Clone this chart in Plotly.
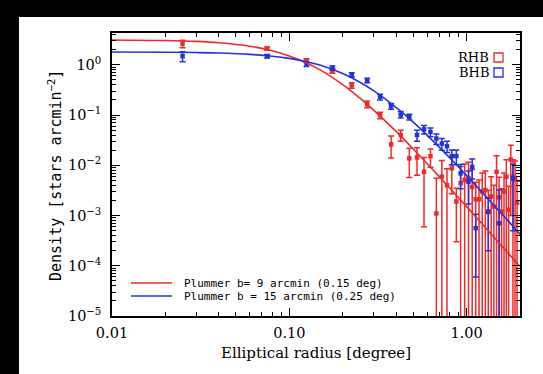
import plotly.graph_objects as go

# ---------------- data ----------------
red_r = [0.025, 0.075, 0.125, 0.175, 0.225, 0.275, 0.325, 0.375, 0.425, 0.475,
         0.525, 0.575, 0.625, 0.675, 0.725, 0.775, 0.825, 0.875, 0.925, 0.975,
         1.025, 1.075, 1.125, 1.175, 1.225, 1.275, 1.325, 1.375, 1.425, 1.475,
         1.525, 1.575, 1.625, 1.675, 1.725, 1.775, 1.825, 1.875, 1.925]
red_d = [2.63, 2.10, 1.21, 0.754, 0.39, 0.164, 0.099, 0.026, 0.040, 0.0137,
         0.0143, 0.0074, 0.0151, 0.0011, 0.0059, 0.0040, 0.0087, 0.0019, 0.0044, 0.0051,
         0.0055, 0.0037, 0.0021, 0.0021, 0.0030, 0.0032, 0.00117, 0.0024, 0.0015, 0.0074,
         0.0023, 0.0012, 0.0030, 0.0059, 0.0013, 0.0130, 0.0059, 0.0056, 0.0018]
red_e = [0.45, 0.15, 0.10, 0.08, 0.05, 0.025, 0.015, 0.012, 0.010, 0.008,
         0.008, 0.0068, 0.006, 0.0044, 0.0065, 0.0045, 0.0060, 0.0016, 0.0050, 0.0055,
         0.0060, 0.0045, 0.0025, 0.0030, 0.0040, 0.0045, 0.0020, 0.0035, 0.0025, 0.0080,
         0.0035, 0.0022, 0.0040, 0.0070, 0.0025, 0.0120, 0.0070, 0.0065, 0.0030]

blue_r = [0.025, 0.075, 0.125, 0.175, 0.225, 0.275, 0.325, 0.375, 0.425, 0.475,
          0.525, 0.575, 0.625, 0.675, 0.725, 0.775, 0.825, 0.875, 0.925, 1.025,
          1.075, 1.125, 1.325, 1.525, 1.825]
blue_d = [1.48, 1.48, 1.02, 0.865, 0.63, 0.49, 0.23, 0.15, 0.102, 0.092,
          0.040, 0.052, 0.046, 0.034, 0.027, 0.024, 0.0152, 0.0152, 0.0069, 0.0047,
          0.0093, 0.00056, 0.0012, 0.0007, 0.0055]
blue_e = [0.33, 0.12, 0.10, 0.08, 0.06, 0.05, 0.03, 0.02, 0.015, 0.012,
          0.010, 0.010, 0.009, 0.008, 0.007, 0.006, 0.005, 0.005, 0.0035, 0.003,
          0.004, 0.0005, 0.001, 0.0025, 0.005]

# Plummer fit curves
fit_r = [0.01, 0.02, 0.03, 0.04, 0.06, 0.08, 0.10, 0.12, 0.15, 0.20,
         0.25, 0.30, 0.40, 0.50, 0.60, 0.80, 1.0, 1.3, 1.6, 2.0]
fit_rhb = [3.12, 3.04, 2.92, 2.75, 2.34, 1.90, 1.50, 1.16, 0.78, 0.402,
           0.217, 0.124, 0.0471, 0.0211, 0.01073, 0.00358, 0.00150, 0.000535, 0.000235, 0.000097]
fit_bhb = [1.794, 1.777, 1.749, 1.711, 1.609, 1.481, 1.338, 1.189, 0.973, 0.669,
           0.45, 0.302, 0.142, 0.072, 0.0394, 0.01425, 0.00623, 0.00229, 0.00102, 0.000426]

x_tickvals = [0.01, 0.1, 1.0]
x_ticktext = ["0.01", "0.10", "1.00"]
y_tickvals = [1, 0.1, 0.01, 0.001, 0.0001, 0.00001]
y_ticktext = ["10<sup>0</sup>", "10<sup>−1</sup>", "10<sup>−2</sup>",
              "10<sup>−3</sup>", "10<sup>−4</sup>", "10<sup>−5</sup>"]

legend_labels = ["Plummer b= 9 arcmin (0.15 deg)", "Plummer b = 15 arcmin (0.25 deg)"]
sample_labels = ["RHB", "BHB"]

RED = "#ee2a2a"
BLUE = "#2233dd"

fig = go.Figure()

fig.add_trace(go.Scatter(
    x=red_r, y=red_d, mode="markers",
    marker=dict(symbol="square", size=4.5, color=RED),
    error_y=dict(type="data", array=red_e, color=RED, thickness=1.5, width=3),
    showlegend=False))
fig.add_trace(go.Scatter(
    x=blue_r, y=blue_d, mode="markers",
    marker=dict(symbol="square", size=4.5, color=BLUE),
    error_y=dict(type="data", array=blue_e, color=BLUE, thickness=1.5, width=3),
    showlegend=False))
fig.add_trace(go.Scatter(x=fit_r, y=fit_rhb, mode="lines", line=dict(color=RED, width=1.6, shape="spline"),
                         showlegend=False))
fig.add_trace(go.Scatter(x=fit_r, y=fit_bhb, mode="lines", line=dict(color=BLUE, width=1.6, shape="spline"),
                         showlegend=False))

tickfont = dict(family="DejaVu Serif", size=14.5, color="black")
axis_common = dict(type="log", showgrid=False, zeroline=False, showline=True,
                   linecolor="black", linewidth=1.6, mirror="allticks",
                   ticks="inside", ticklen=8, tickwidth=1.2, tickcolor="black",
                   tickfont=tickfont)

fig.update_xaxes(**axis_common, range=[-2, 0.301],
                 tickvals=x_tickvals, ticktext=x_ticktext, ticklabelstandoff=3,
                 minor=dict(ticks="inside", ticklen=4, tickwidth=1, tickcolor="black",
                            dtick="D1", showgrid=False))
fig.update_yaxes(**axis_common, range=[-5, 0.632],
                 tickvals=y_tickvals, ticktext=y_ticktext, ticklabelstandoff=6,
                 minor=dict(ticks="inside", ticklen=4, tickwidth=1, tickcolor="black",
                            dtick="D1", showgrid=False))

shapes = []
# white page area (the original image has black strips on its top and left edges)
shapes.append(dict(type="rect", xref="paper", yref="paper", xsizemode="pixel", ysizemode="pixel",
                   xanchor=0, yanchor=0, x0=-93, x1=480, y0=-120, y1=299,
                   fillcolor="white", line=dict(width=0), layer="below"))
# legend line samples
leg_y = [33, 20]
for i, col in enumerate([RED, BLUE]):
    shapes.append(dict(type="line", xref="paper", yref="paper", xsizemode="pixel", ysizemode="pixel",
                       xanchor=0, yanchor=0, x0=19, x1=60, y0=leg_y[i], y1=leg_y[i],
                       line=dict(color=col, width=1.6)))
# RHB / BHB boxes
box_y = [24.5, 39.5]
for i, col in enumerate([RED, BLUE]):
    shapes.append(dict(type="rect", xref="paper", yref="paper", xsizemode="pixel", ysizemode="pixel",
                       xanchor=1, yanchor=1, x0=-26, x1=-17, y0=-box_y[i] + 4.5, y1=-box_y[i] - 4.5,
                       line=dict(color=col, width=1.3), fillcolor="rgba(0,0,0,0)"))

annotations = []
for i, lab in enumerate(legend_labels):
    annotations.append(dict(text=lab, xref="paper", yref="paper", x=70 / 408, y=leg_y[i] / 283,
                            xanchor="left", yanchor="middle", showarrow=False,
                            font=dict(family="DejaVu Sans Mono", size=11, color="black")))
for i, lab in enumerate(sample_labels):
    annotations.append(dict(text=lab, xref="paper", yref="paper", x=1 - 29 / 408, y=1 - box_y[i] / 283,
                            xanchor="right", yanchor="middle", showarrow=False,
                            font=dict(family="DejaVu Serif", size=13, color="black")))
annotations.append(dict(text="Elliptical radius [degree]", xref="paper", yref="paper",
                        x=(315.5 - 112) / 408, y=-(353 - 316) / 283, xanchor="center", yanchor="middle",
                        showarrow=False, font=dict(family="DejaVu Serif", size=15, color="black")))
annotations.append(dict(text="Density [stars arcmin<sup>−2</sup>]", xref="paper", yref="paper",
                        x=-(112 - 55) / 408, y=(316 - 176) / 283, xanchor="center", yanchor="middle",
                        textangle=-90, showarrow=False,
                        font=dict(family="DejaVu Sans Mono", size=15, color="black")))

fig.update_layout(width=543, height=374, autosize=False,
                  margin=dict(l=112, r=23, t=33, b=58, pad=0),
                  paper_bgcolor="black", plot_bgcolor="white",
                  shapes=shapes, annotations=annotations, showlegend=False)

fig.write_html("out.html")
